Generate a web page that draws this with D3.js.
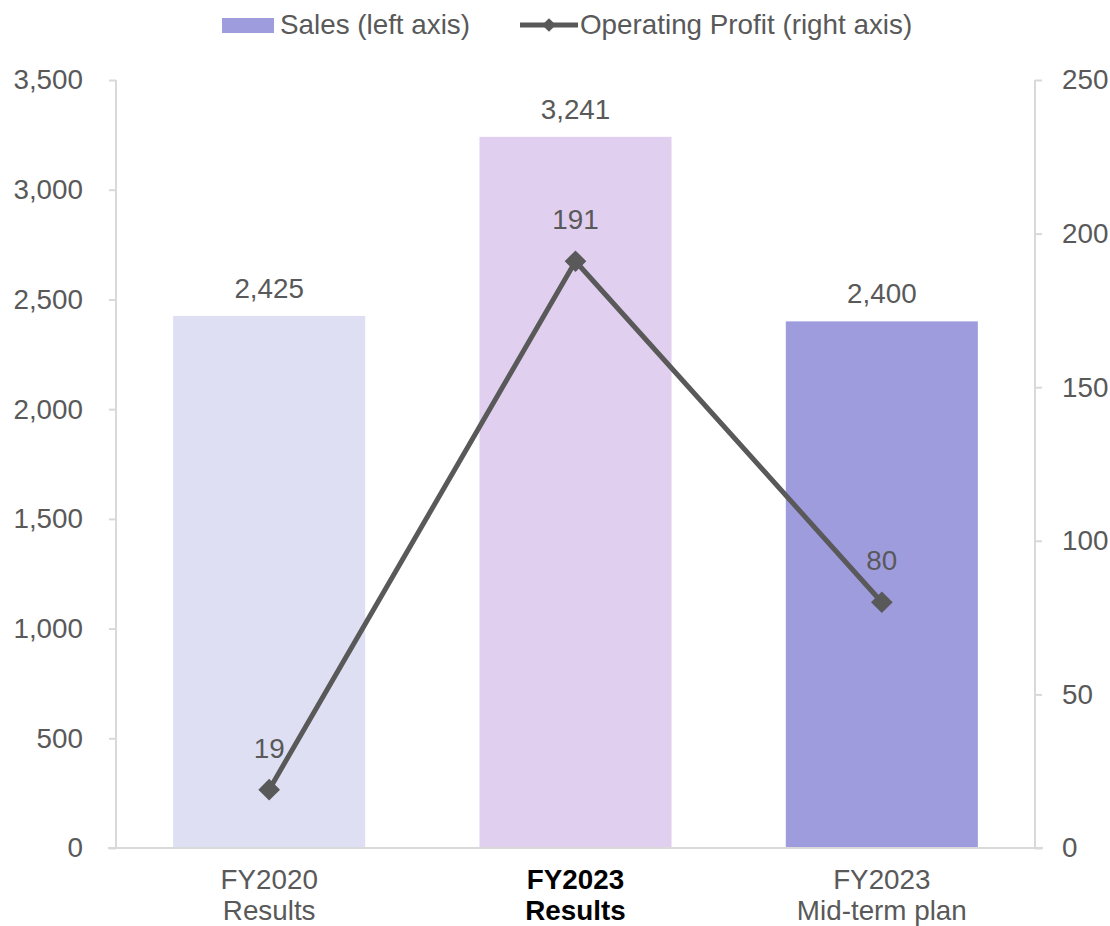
<!DOCTYPE html>
<html><head><meta charset="utf-8">
<script src="https://cdn.jsdelivr.net/npm/d3@7"></script>
<style>body{margin:0;background:#fff}svg{display:block;font-family:"Liberation Sans",Arial,sans-serif}</style>
</head><body><svg id="c" width="1110" height="926"></svg>
<script>
const categories = [["FY2020","Results"],["FY2023","Results"],["FY2023","Mid-term plan"]];
const boldCategory = [false, true, false];
const sales = [2425, 3241, 2400];
const profit = [19, 191, 80];
const barColors = ["#dfdff4", "#e1cff0", "#9f9cde"];
const leftTicks = [0,500,1000,1500,2000,2500,3000,3500];
const rightTicks = [0,50,100,150,200,250];

const FS = 27.8;
const svg = d3.select("#c");
const L = 116, R = 1035, T = 80, B = 848;
const x = d3.scaleBand().domain(d3.range(3)).range([L, R]).paddingInner(0.373).paddingOuter(0.1865);
const yL = d3.scaleLinear().domain([0,3500]).range([B, T]);
const yR = d3.scaleLinear().domain([0,250]).range([B, T]);
const grey = "#595959", axisC = "#d9d9d9";

// bars
svg.selectAll("rect.bar").data(sales).join("rect")
  .attr("x",(d,i)=>x(i)).attr("width",x.bandwidth())
  .attr("y",d=>yL(d)).attr("height",d=>B-yL(d))
  .attr("fill",(d,i)=>barColors[i]);

// axes
const ga = svg.append("g").attr("transform",`translate(${L},0)`)
  .call(d3.axisLeft(yL).tickValues(leftTicks).tickSize(7).tickPadding(26).tickFormat(d3.format(",")));
const gb = svg.append("g").attr("transform",`translate(${R},0)`)
  .call(d3.axisRight(yR).tickValues(rightTicks).tickSize(7).tickPadding(20));
[ga,gb].forEach(g=>{
  g.select(".domain").remove();
  g.selectAll("line").attr("stroke",axisC).attr("stroke-width",2);
  g.selectAll("text").attr("fill",grey).attr("font-size",FS).attr("font-family","Liberation Sans, Arial, sans-serif");
});
svg.append("line").attr("x1",L).attr("x2",L).attr("y1",T).attr("y2",B).attr("stroke",axisC).attr("stroke-width",2);
svg.append("line").attr("x1",R).attr("x2",R).attr("y1",T).attr("y2",B).attr("stroke",axisC).attr("stroke-width",2);
svg.append("line").attr("x1",L-8).attr("x2",R+8).attr("y1",B).attr("y2",B).attr("stroke",axisC).attr("stroke-width",2);

// bar labels
svg.selectAll("text.bl").data(sales).join("text")
  .attr("x",(d,i)=>x(i)+x.bandwidth()/2).attr("y",d=>yL(d)-18)
  .attr("text-anchor","middle").attr("fill",grey).attr("font-size",FS)
  .text(d=>d3.format(",")(d));

// line
const cx = i => x(i)+x.bandwidth()/2;
svg.append("path").datum(profit)
  .attr("d",d3.line().x((d,i)=>cx(i)).y(d=>yR(d)))
  .attr("fill","none").attr("stroke",grey).attr("stroke-width",5).attr("stroke-linejoin","round");
const diamond = d3.symbol().type(d3.symbolDiamond2).size(300);
svg.selectAll("path.m").data(profit).join("path")
  .attr("transform",(d,i)=>`translate(${cx(i)},${yR(d)})`).attr("d",diamond).attr("fill",grey);
svg.selectAll("text.pl").data(profit).join("text")
  .attr("x",(d,i)=>cx(i)).attr("y",d=>yR(d)-32)
  .attr("text-anchor","middle").attr("fill",grey).attr("font-size",FS).text(d=>d);

// x labels
categories.forEach((c,i)=>{
  const t = svg.append("text").attr("x",cx(i)).attr("text-anchor","middle").attr("font-size",FS)
    .attr("fill",boldCategory[i]?"#000":grey).attr("font-weight",boldCategory[i]?"bold":"normal");
  t.append("tspan").attr("x",cx(i)).attr("y",889).text(c[0]);
  t.append("tspan").attr("x",cx(i)).attr("y",920).text(c[1]);
});

// legend
svg.append("rect").attr("x",222).attr("y",18).attr("width",52).attr("height",15).attr("fill",barColors[2]);
svg.append("text").attr("x",280).attr("y",34).attr("fill",grey).attr("font-size",FS).text("Sales (left axis)");
svg.append("line").attr("x1",520).attr("x2",578).attr("y1",25).attr("y2",25).attr("stroke",grey).attr("stroke-width",5);
svg.append("path").attr("transform","translate(549,25)").attr("d",d3.symbol().type(d3.symbolDiamond2).size(120)).attr("fill",grey);
svg.append("text").attr("x",580).attr("y",34).attr("fill",grey).attr("font-size",FS).text("Operating Profit (right axis)");
</script></body></html>
